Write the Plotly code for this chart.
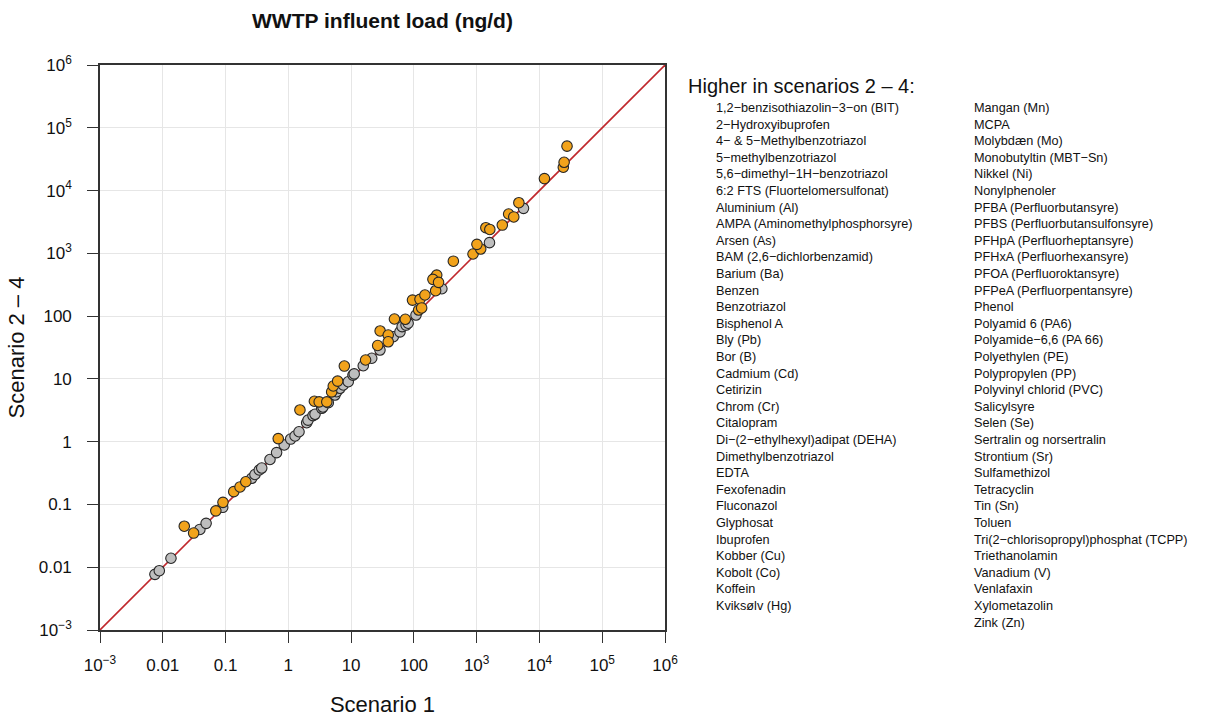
import plotly.graph_objects as go

# ---- data (Scenario 1 vs Scenario 2-4, ng/d) ----
gray_s1 = [0.0075, 0.0088, 0.0135, 0.039, 0.049, 0.090, 0.261, 0.294, 0.344, 0.377,
           0.51, 0.65, 0.86, 1.09, 1.28, 1.48, 1.96, 2.06, 2.47, 2.66, 3.40, 3.56,
           4.33, 5.53, 5.89, 6.65, 7.5, 9.0, 10.7, 11.2, 15.6, 21.3, 28.8, 47, 60,
           65, 75, 81, 108, 279, 1600, 5570]
gray_s2 = [0.0077, 0.0088, 0.0139, 0.040, 0.050, 0.090, 0.261, 0.30, 0.354, 0.38,
           0.52, 0.67, 0.885, 1.10, 1.23, 1.44, 2.0, 2.2, 2.6, 2.73, 3.40, 3.56,
           4.18, 5.53, 6.25, 7.08, 8.0, 9.0, 11.5, 12.0, 16.2, 21.3, 28.8, 47, 56,
           68, 72, 77, 104, 273, 1480, 5210]

orange_s1 = [0.022, 0.031, 0.070, 0.091, 0.135, 0.17, 0.21, 0.69, 1.53, 2.6, 3.1,
             4.1, 4.9, 5.2, 6.1, 7.8, 17, 26.5, 29, 39, 39, 49, 73, 95, 125, 150,
             119, 133, 217, 231, 222, 201, 247, 425, 875, 1160, 1010, 1400, 1620,
             2560, 3230, 3900, 4700, 12000, 24000, 24700, 27500]
orange_s2 = [0.045, 0.035, 0.079, 0.108, 0.16, 0.19, 0.23, 1.12, 3.2, 4.4, 4.3,
             4.3, 6.2, 7.7, 9.2, 16, 20, 34, 58, 50, 39, 90, 89, 180, 185, 217,
             125, 135, 410, 450, 254, 385, 345, 750, 975, 1170, 1390, 2560, 2400,
             2820, 4230, 3800, 6400, 15500, 23500, 28200, 51000]

axis_range = [1e-3, 1e6]
tick_vals = [1e-3, 1e-2, 1e-1, 1, 10, 100, 1e3, 1e4, 1e5, 1e6]
tick_text = ["10<sup>−3</sup>", "0.01", "0.1", "1", "10", "100",
             "10<sup>3</sup>", "10<sup>4</sup>", "10<sup>5</sup>", "10<sup>6</sup>"]

legend_title = "Higher in scenarios 2 – 4:"
names_col1 = ["1,2−benzisothiazolin−3−on (BIT)", "2−Hydroxyibuprofen",
              "4− & 5−Methylbenzotriazol", "5−methylbenzotriazol",
              "5,6−dimethyl−1H−benzotriazol", "6:2 FTS (Fluortelomersulfonat)",
              "Aluminium (Al)", "AMPA (Aminomethylphosphorsyre)", "Arsen (As)",
              "BAM (2,6−dichlorbenzamid)", "Barium (Ba)", "Benzen", "Benzotriazol",
              "Bisphenol A", "Bly (Pb)", "Bor (B)", "Cadmium (Cd)", "Cetirizin",
              "Chrom (Cr)", "Citalopram", "Di−(2−ethylhexyl)adipat (DEHA)",
              "Dimethylbenzotriazol", "EDTA", "Fexofenadin", "Fluconazol",
              "Glyphosat", "Ibuprofen", "Kobber (Cu)", "Kobolt (Co)", "Koffein",
              "Kviksølv (Hg)"]
names_col2 = ["Mangan (Mn)", "MCPA", "Molybdæn (Mo)", "Monobutyltin (MBT−Sn)",
              "Nikkel (Ni)", "Nonylphenoler", "PFBA (Perfluorbutansyre)",
              "PFBS (Perfluorbutansulfonsyre)", "PFHpA (Perfluorheptansyre)",
              "PFHxA (Perfluorhexansyre)", "PFOA (Perfluoroktansyre)",
              "PFPeA (Perfluorpentansyre)", "Phenol", "Polyamid 6 (PA6)",
              "Polyamide−6,6 (PA 66)", "Polyethylen (PE)", "Polypropylen (PP)",
              "Polyvinyl chlorid (PVC)", "Salicylsyre", "Selen (Se)",
              "Sertralin og norsertralin", "Strontium (Sr)", "Sulfamethizol",
              "Tetracyclin", "Tin (Sn)", "Toluen",
              "Tri(2−chlorisopropyl)phosphat (TCPP)", "Triethanolamin",
              "Vanadium (V)", "Venlafaxin", "Xylometazolin", "Zink (Zn)"]

FONT = "Liberation Sans, Arial, Helvetica, sans-serif"

fig = go.Figure()
fig.add_trace(go.Scatter(x=axis_range, y=axis_range, mode="lines",
                         line=dict(color="#C0282D", width=1.6),
                         hoverinfo="skip", showlegend=False))
fig.add_trace(go.Scatter(x=gray_s1, y=gray_s2, mode="markers",
                         marker=dict(size=10.5, color="#BEBEBE",
                                     line=dict(color="#262626", width=1.1)),
                         showlegend=False))
fig.add_trace(go.Scatter(x=orange_s1, y=orange_s2, mode="markers",
                         marker=dict(size=10.5, color="#F2A31B",
                                     line=dict(color="#262626", width=1.1)),
                         showlegend=False))

# plot area geometry (pixels)
L, R, T, B = 100, 665, 65, 630
W, H = 1210, 717

def px_x(px):
    return (px - L) / (R - L)

def px_y(py):
    return (B - py) / (B - T)

ann = [dict(text=legend_title, x=px_x(686), y=px_y(86), xref="paper", yref="paper",
            xanchor="left", yanchor="middle", showarrow=False,
            font=dict(size=20, color="#111", family=FONT))]
for i, n in enumerate(names_col1):
    ann.append(dict(text=n, x=px_x(714), y=px_y(108 + i * 16.6), xref="paper",
                    yref="paper", xanchor="left", yanchor="middle", showarrow=False,
                    font=dict(size=12.7, color="#111", family=FONT)))
for i, n in enumerate(names_col2):
    ann.append(dict(text=n, x=px_x(972), y=px_y(108 + i * 16.6), xref="paper",
                    yref="paper", xanchor="left", yanchor="middle", showarrow=False,
                    font=dict(size=12.7, color="#111", family=FONT)))

axis_common = dict(type="log", range=[-3, 6], tickvals=tick_vals, ticktext=tick_text,
                   showgrid=True, gridcolor="#E6E6E6", gridwidth=1,
                   ticks="outside", ticklen=11, tickwidth=1.2, tickcolor="#333",
                   showline=True, mirror=True, linecolor="#333", linewidth=1.6,
                   zeroline=False, automargin=False,
                   tickfont=dict(size=17, color="#111", family=FONT))

fig.update_layout(
    width=W, height=H,
    margin=dict(l=L, r=W - R, t=T, b=H - B),
    plot_bgcolor="white", paper_bgcolor="white",
    title=dict(text="<b>WWTP influent load (ng/d)</b>", x=(L + R) / 2 / W,
               xanchor="center", y=1 - 21 / H, yanchor="middle",
               font=dict(size=21, color="#111", family=FONT)),
    xaxis=dict(**axis_common, ticklabelstandoff=8,
               title=dict(text="Scenario 1", standoff=24,
                          font=dict(size=22, color="#111", family=FONT))),
    yaxis=dict(**axis_common, ticklabelstandoff=12,
               title=dict(text="Scenario 2 – 4", standoff=8,
                          font=dict(size=22, color="#111", family=FONT))),
    annotations=ann,
    showlegend=False,
)

fig.write_html("out.html", config={"displayModeBar": False},
               post_script="document.body.style.margin='0';")
